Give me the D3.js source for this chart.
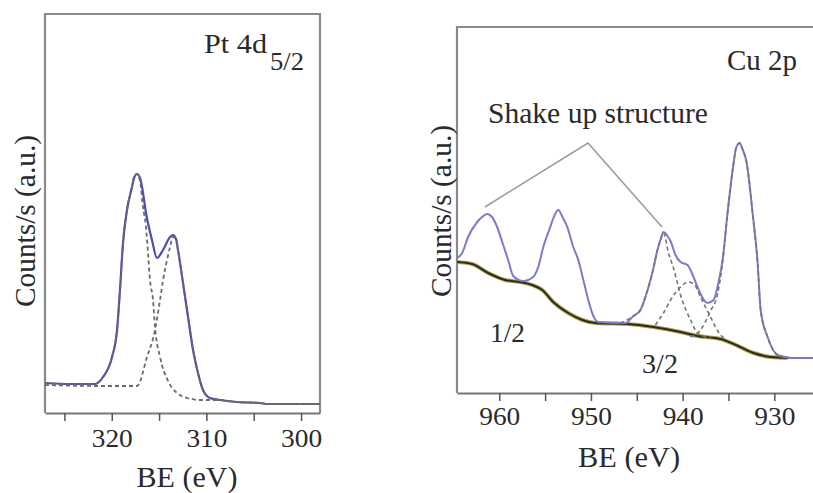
<!DOCTYPE html>
<html><head><meta charset="utf-8">
<script src="https://cdn.jsdelivr.net/npm/d3@7"></script>
<style>
body{margin:0;background:#fff}
svg{display:block}
text{font-family:"Liberation Serif","DejaVu Serif","Noto Serif",serif;fill:#2a2a2a}
</style>
</head><body>
<svg id="c" width="813" height="493"></svg>
<script>
// ---------- Pt 4d panel data ----------
const ptTicks = [325, 320, 315, 310, 305, 300];
const ptTickLabels = [320, 310, 300];
const ptEnvelope = [[327.05,30],[324.41,29],[321.77,29],[320.92,36],[319.97,56],[319.44,83],[319.13,123],[318.81,170],[318.39,203],[317.86,226],[317.65,235],[317.33,239],[317.01,235],[316.8,226],[316.38,200],[315.75,173],[315.22,155],[314.58,163],[313.84,176],[313.53,178],[313.21,174],[313.0,163],[312.47,130],[311.94,96],[311.41,63],[310.89,40],[310.36,23],[309.62,15],[308.56,13],[306.76,11],[304.33,10],[303.6,9],[298.0,9]];
const ptComp1 = [[327.05,30],[324.41,29],[321.77,29],[320.92,36],[319.97,56],[319.44,83],[319.13,123],[318.81,170],[318.39,203],[317.86,226],[317.65,235],[317.33,239],[317.01,232],[316.7,206],[316.38,186],[316.17,160],[315.96,133],[315.64,113],[315.43,86],[314.9,56],[314.05,32],[313.1,20],[312.05,15],[310.67,13],[308.56,13],[306.76,11],[304.33,10],[303.6,9],[298.0,9]];
const ptComp2 = [[327.05,28],[321.24,27],[317.33,27],[316.27,56],[315.43,83],[314.9,113],[314.58,133],[314.16,153],[313.84,166],[313.53,176],[313.21,174],[313.0,163],[312.47,130],[311.94,96],[311.41,63],[310.89,40],[310.36,23],[309.62,15],[308.56,13],[306.76,11],[304.33,10],[303.6,9],[298.0,9]];

// ---------- Cu 2p panel data ----------
const cuTicks = [960, 955, 950, 945, 940, 935, 930];
const cuTickLabels = [960, 950, 940, 930];
const cuBackground = [[964.6,131],[962.96,129],[961.21,120],[959.36,113],[957.72,111],[956.41,108],[955.31,103],[954.11,91],[952.47,80],[950.94,73],[949.52,70],[946.02,69],[943.18,66],[940.23,61],[938.38,57],[935.86,54],[934.44,49],[932.26,40],[930.4,36],[928.54,35]];
const cuEnvelope = [[964.6,135],[964.05,140],[963.4,156],[962.41,171],[961.88,176],[961.32,179],[960.79,176],[960.23,166],[959.57,148],[959.03,133],[958.48,117],[957.39,112],[956.3,116],[955.75,126],[955.2,146],[954.44,166],[954.14,174],[953.56,183],[953.05,175],[952.58,166],[951.93,146],[951.38,133],[950.83,113],[950.29,93],[949.74,77],[949.19,71],[946.24,70],[945.37,77],[944.6,83],[944.06,96],[943.51,113],[943.18,125],[942.75,143],[942.42,153],[942.09,161],[941.65,157],[941.32,152],[940.78,138],[940.23,131],[939.47,128],[938.81,116],[938.38,106],[937.28,90],[936.63,93],[936.08,111],[935.64,133],[935.1,180],[934.44,230],[934.17,245],[933.78,250],[933.52,245],[933.01,230],[932.37,180],[931.82,130],[931.49,83],[930.73,56],[929.63,38],[928.21,35],[925.7,35]];
const cuCompA = [[946.79,70],[945.37,77],[944.6,83],[944.06,96],[943.51,113],[943.18,125],[942.75,143],[942.42,153],[942.09,160],[941.54,140],[941.0,125],[940.23,98],[939.14,73],[938.38,60],[937.5,56],[936.96,55]];
const cuCompB = [[942.97,68],[942.09,80],[941.32,93],[940.23,106],[939.36,111],[938.7,108],[938.05,96],[936.96,76],[935.86,58],[935.32,54]];
const cuCompC = [[939.14,56],[938.05,63],[936.96,82],[936.19,99],[935.64,131],[935.1,180],[934.44,230],[934.17,245],[933.78,250],[933.52,245],[933.01,230],[932.37,180],[931.82,130],[931.49,83],[930.73,56],[929.63,38],[928.21,35]];
const shakeUpLines = [[961.56,186],[950.32,250],[942.25,166]];

const svg = d3.select("#c");

function label(g, t, x, y, size, width, anchor, transform) {
  const el = g.append("text").attr("font-size", size).text(t);
  if (transform) el.attr("transform", transform); else el.attr("x", x).attr("y", y);
  if (anchor) el.attr("text-anchor", anchor);
  if (width) el.attr("textLength", width).attr("lengthAdjust", "spacingAndGlyphs");
  return el;
}

function panel(opt) {
  const x = d3.scaleLinear().domain(opt.xDomain).range([opt.left, opt.right]);
  const y = d3.scaleLinear().domain(opt.yDomain).range([opt.bottom, opt.top]);
  const g = svg.append("g");
  const line = d3.line().x(d => x(d[0])).y(d => y(d[1])).curve(d3.curveMonotoneX);

  g.append("path")
    .attr("d", `M${opt.left},${opt.bottom}V${opt.frameTop}H${opt.frameRight}` + (opt.closeRight ? `V${opt.bottom}` : ""))
    .attr("fill", "none").attr("stroke", "#8a8a8a").attr("stroke-width", 2.2);

  const ax = g.append("g").attr("transform", `translate(0,${opt.bottom})`)
    .call(d3.axisBottom(x).tickValues(opt.ticks).tickSize(8).tickSizeOuter(0).tickPadding(opt.tickPad)
      .tickFormat(d => opt.tickLabels.includes(d) ? d : ""));
  ax.attr("font-family", null);
  ax.select(".domain").attr("stroke", "#777").attr("stroke-width", 2.2);
  ax.selectAll(".tick line").attr("stroke", "#555").attr("stroke-width", 1.5);
  ax.selectAll(".tick text").attr("font-size", 26).attr("fill", "#2a2a2a")
    .each(function(d){ if (opt.tickLabels.includes(d)) d3.select(this).attr("textLength", 41).attr("lengthAdjust","spacingAndGlyphs"); });

  return {x, y, g, line};
}

// ---------- Left panel ----------
const L = panel({xDomain:[327.05,298.0], yDomain:[0,400], left:45, right:320, top:13, bottom:413,
  frameTop:14, frameRight:320, closeRight:true, ticks:ptTicks, tickLabels:ptTickLabels, tickPad:8});

L.g.append("path").datum(ptEnvelope).attr("d", L.line)
  .attr("fill","none").attr("stroke","#4d4db3").attr("stroke-width",2.2);
[ptComp1, ptComp2].forEach(c => {
  L.g.append("path").datum(c).attr("d", L.line)
    .attr("fill","none").attr("stroke","#6a6a72").attr("stroke-width",1.8).attr("stroke-dasharray","4,3");
});

label(L.g, "Pt 4d", 204, 53, 28, 63);
label(L.g, "5/2", 270, 70, 26, 34);
label(L.g, "BE (eV)", 187, 487, 29, 101, "middle");
label(L.g, "Counts/s (a.u.)", 0, 0, 29, 172, "middle", "translate(35,221) rotate(-90)");

// ---------- Right panel ----------
const R = panel({xDomain:[964.61,925.78], yDomain:[0,366], left:457, right:813, top:27, bottom:393,
  frameTop:27, frameRight:813, closeRight:false, ticks:cuTicks, tickLabels:cuTickLabels, tickPad:6});

R.g.append("path").datum(shakeUpLines).attr("d", d3.line().x(d => R.x(d[0])).y(d => R.y(d[1])))
  .attr("fill","none").attr("stroke","#9a9a9a").attr("stroke-width",1.5);

R.g.append("path").datum(cuBackground).attr("d", R.line)
  .attr("fill","none").attr("stroke","#b3a548").attr("stroke-width",4);
R.g.append("path").datum(cuBackground).attr("d", R.line)
  .attr("fill","none").attr("stroke","#2b2b22").attr("stroke-width",2);
R.g.append("path").datum(cuEnvelope).attr("d", R.line)
  .attr("fill","none").attr("stroke","#7c7acb").attr("stroke-width",2);
[cuCompA, cuCompB, cuCompC].forEach(c => {
  R.g.append("path").datum(c).attr("d", R.line)
    .attr("fill","none").attr("stroke","#75757c").attr("stroke-width",1.6).attr("stroke-dasharray","4,3");
});

label(R.g, "Cu 2p", 727, 70, 29, 70);
label(R.g, "Shake up structure", 488, 123, 29, 220);
label(R.g, "1/2", 490, 342, 28, 35);
label(R.g, "3/2", 642, 373, 28, 36);
label(R.g, "BE (eV)", 629, 467, 29, 102, "middle");
label(R.g, "Counts/s (a.u.)", 0, 0, 29, 172, "middle", "translate(451,211) rotate(-90)");
</script>
</body></html>
